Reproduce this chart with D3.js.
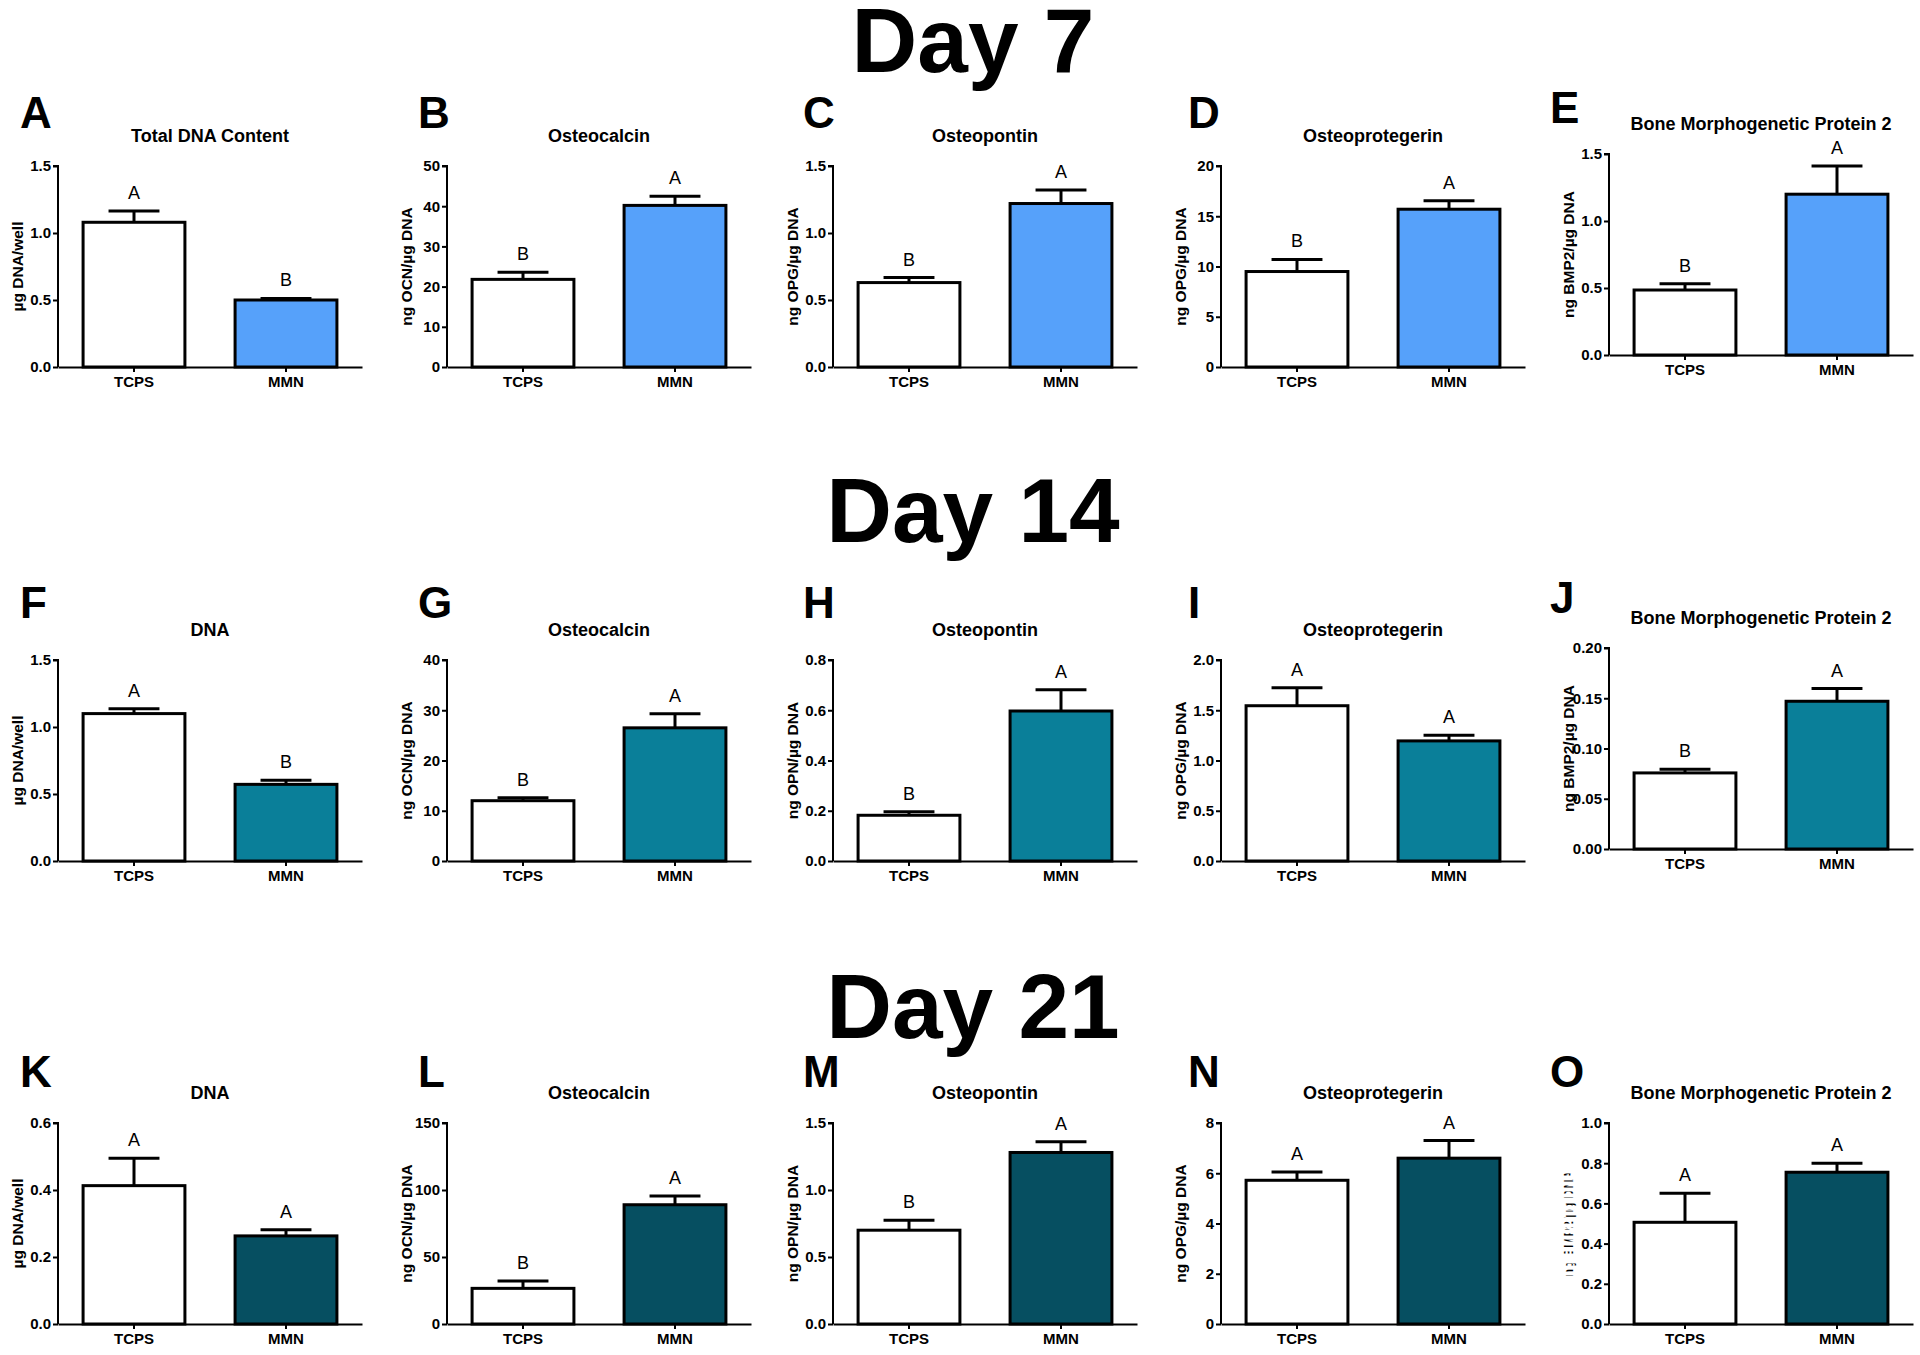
<!DOCTYPE html>
<html><head><meta charset="utf-8">
<script src="https://cdn.jsdelivr.net/npm/d3@7"></script>
<style>
html,body{margin:0;padding:0;background:#fff;}
svg{display:block;font-family:"Liberation Sans",Arial,Helvetica,sans-serif;}
</style></head>
<body><svg id="chart" width="1920" height="1355"></svg>
<script>
// ---------------- data ----------------
const dayTitles = ["Day 7", "Day 14", "Day 21"];
const categories = ["TCPS", "MMN"];
const panelLetters = ["A","B","C","D","E","F","G","H","I","J","K","L","M","N","O"];
const panelTitles = [
  "Total DNA Content","Osteocalcin","Osteopontin","Osteoprotegerin","Bone Morphogenetic Protein 2",
  "DNA","Osteocalcin","Osteopontin","Osteoprotegerin","Bone Morphogenetic Protein 2",
  "DNA","Osteocalcin","Osteopontin","Osteoprotegerin","Bone Morphogenetic Protein 2"];
const yLabels = [
  "µg DNA/well","ng OCN/µg DNA","ng OPG/µg DNA","ng OPG/µg DNA","ng BMP2/µg DNA",
  "µg DNA/well","ng OCN/µg DNA","ng OPN/µg DNA","ng OPG/µg DNA","ng BMP2/µg DNA",
  "µg DNA/well","ng OCN/µg DNA","ng OPN/µg DNA","ng OPG/µg DNA","ng BMP2/µg DNA"];
const yMax   = [1.5, 50, 1.5, 20, 1.5,   1.5, 40, 0.8, 2.0, 0.20,   0.6, 150, 1.5, 8, 1.0];
const yStep  = [0.5, 10, 0.5, 5, 0.5,    0.5, 10, 0.2, 0.5, 0.05,   0.2, 50, 0.5, 2, 0.2];
const yDecimals = [1,0,1,0,1, 1,0,1,1,2, 1,0,1,0,1];
const tcpsMean = [1.08, 21.8, 0.63, 9.5, 0.485,   1.10, 12.0, 0.182, 1.545, 0.0757,   0.413, 26.6, 0.70, 5.72, 0.506];
const tcpsErr  = [0.085, 1.8, 0.037, 1.2, 0.047,  0.036, 0.6, 0.014, 0.18, 0.0036,    0.082, 5.5, 0.075, 0.33, 0.144];
const mmnMean  = [0.50, 40.2, 1.22, 15.7, 1.20,   0.572, 26.5, 0.597, 1.195, 0.147,   0.263, 89.0, 1.28, 6.6, 0.755];
const mmnErr   = [0.012, 2.3, 0.10, 0.85, 0.21,   0.03, 2.8, 0.085, 0.056, 0.0127,    0.018, 6.5, 0.08, 0.7, 0.045];
const tcpsSig  = ["A","B","B","B","B", "A","B","B","A","B", "A","B","B","A","A"];
const mmnSig   = ["B","A","A","A","A", "B","A","A","A","A", "A","A","A","A","A"];

// ---------------- layout ----------------
const mmnColors = ["#56A1FA", "#0A7F99", "#064F61"];
const colAxisX = [58, 447, 833, 1221, 1609];
const colLetterX = [20, 418, 803, 1188, 1550];
const plotW = 304;
const rowTop = [166, 660, 1123];
const rowZero = [367, 861, 1324];
const rowLetterY = [128, 618, 1087];
const dayBaseline = [72, 542, 1038];
// per-panel vertical offset (last column of first two rows sits slightly higher)
const panelShift = [0,0,0,0,-12, 0,0,0,0,-12, 0,0,0,0,0];

const svg = d3.select("#chart");

// pattern for the broken label in panel O
const defs = svg.append("defs");
const pat = defs.append("pattern").attr("id","brokenText").attr("patternUnits","userSpaceOnUse")
  .attr("width",6).attr("height",4);
pat.append("rect").attr("x",0).attr("y",0).attr("width",2).attr("height",4).attr("fill","#000");

dayTitles.forEach((t,i)=>{
  svg.append("text").attr("x",973).attr("y",dayBaseline[i]).attr("text-anchor","middle")
    .attr("font-size",91).attr("font-weight","bold").attr("fill","#000").text(t);
});

panelLetters.forEach((letter, p)=>{
  const row = Math.floor(p/5), col = p%5;
  const ax = colAxisX[col];
  const top = rowTop[row] + panelShift[p];
  const zero = rowZero[row] + panelShift[p];
  const g = svg.append("g");

  const x = d3.scaleBand().domain(categories).range([ax, ax+plotW]).paddingInner(0.33).paddingOuter(0.165);
  const y = d3.scaleLinear().domain([0, yMax[p]]).range([zero, top]);
  const ticks = d3.range(0, yMax[p] + yStep[p]/2, yStep[p]);

  // panel letter
  g.append("text").attr("x", colLetterX[col]).attr("y", rowLetterY[row] + (panelShift[p] ? -5 : 0))
    .attr("font-size", 44).attr("font-weight","bold").text(letter);
  // title
  g.append("text").attr("x", ax + plotW/2).attr("y", top - 24).attr("text-anchor","middle")
    .attr("font-size", 18).attr("font-weight","bold").text(panelTitles[p]);

  // bars
  const vals = [tcpsMean[p], mmnMean[p]];
  const errs = [tcpsErr[p], mmnErr[p]];
  const sig = [tcpsSig[p], mmnSig[p]];
  const fills = ["#ffffff", mmnColors[row]];
  categories.forEach((c,i)=>{
    const cx = x(c) + x.bandwidth()/2;
    const et = y(vals[i] + errs[i]);
    // error bar
    g.append("line").attr("x1",cx).attr("x2",cx).attr("y1",y(vals[i])).attr("y2",et)
      .attr("stroke","#000").attr("stroke-width",3);
    g.append("line").attr("x1",cx - x.bandwidth()/4).attr("x2",cx + x.bandwidth()/4)
      .attr("y1",et).attr("y2",et).attr("stroke","#000").attr("stroke-width",3);
    g.append("rect").attr("x", x(c)).attr("y", y(vals[i])).attr("width", x.bandwidth())
      .attr("height", y(0) - y(vals[i])).attr("fill", fills[i]).attr("stroke","#000").attr("stroke-width",3);
    g.append("text").attr("x",cx).attr("y", et - 12).attr("text-anchor","middle")
      .attr("font-size",18).text(sig[i]);
  });

  // y axis
  const yAxis = d3.axisLeft(y).tickValues(ticks).tickSize(5).tickPadding(2)
    .tickFormat(d=>d3.format("."+yDecimals[p]+"f")(d));
  const ya = g.append("g").attr("transform",`translate(${ax},0)`).call(yAxis);
  ya.select(".domain").attr("stroke","#000").attr("stroke-width",2).attr("d",`M-5,${top}H0V${zero}`);
  ya.selectAll(".tick line").attr("stroke","#000").attr("stroke-width",2);
  ya.selectAll(".tick text").attr("font-size",15).attr("font-weight","bold").attr("fill","#000")
    .attr("font-family",'"Liberation Sans",Arial,sans-serif');

  // x axis
  const xAxis = d3.axisBottom(x).tickSize(5).tickPadding(4).tickSizeOuter(0);
  const xa = g.append("g").attr("transform",`translate(0,${zero})`).call(xAxis);
  xa.select(".domain").attr("stroke","#000").attr("stroke-width",2);
  xa.selectAll(".tick line").attr("stroke","#000").attr("stroke-width",2);
  xa.selectAll(".tick text").attr("font-size",15).attr("font-weight","bold").attr("fill","#000")
    .attr("font-family",'"Liberation Sans",Arial,sans-serif');

  // y label
  const lab = g.append("text").attr("transform",`translate(${ax-41},${(top+zero)/2}) rotate(-90)`)
    .attr("text-anchor","middle").attr("dominant-baseline","central")
    .attr("font-size",15.5).attr("font-weight","bold").text(yLabels[p]);
  if (p === 14) lab.attr("fill","url(#brokenText)").attr("font-size",13);
});
</script></body></html>
